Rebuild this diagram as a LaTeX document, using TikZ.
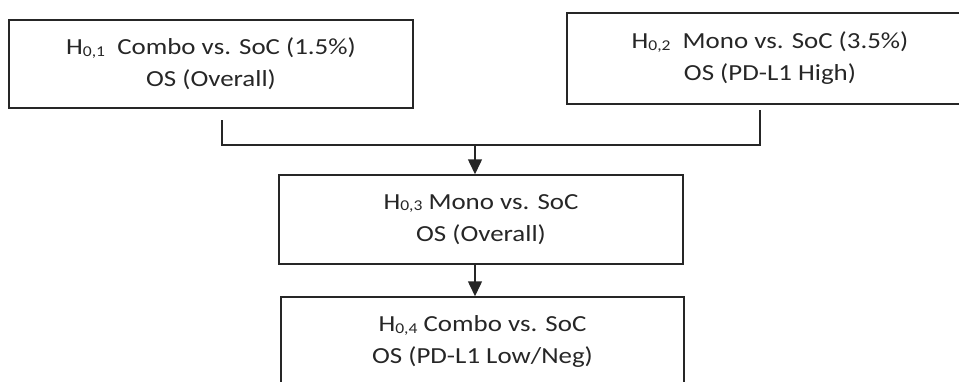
\documentclass[tikz,border=0pt]{standalone}
\usepackage{fontspec}
\setmainfont{Carlito}[FakeStretch=1.17]
\usetikzlibrary{arrows.meta}
\definecolor{ink}{HTML}{262626}
\newcommand\hsub[1]{\raisebox{-1.5pt}{\fontsize{15}{15}\selectfont #1}}
\begin{document}
\begin{tikzpicture}[x=1pt,y=-1pt,
  hbox/.style={draw=ink, line width=1.5pt, rectangle, inner sep=0pt, align=center,
    text=ink, font=\fontsize{23}{32}\selectfont},
  conn/.style={draw=ink, line width=1.5pt},
  arr/.style={conn, -{Triangle[width=14pt,length=15pt]}}]
\useasboundingbox (0,0) rectangle (959,381);
\begin{scope}
\clip (0,0) rectangle (959,381);
\node[hbox, minimum width=404pt, minimum height=88pt] (h1) at (211,64)
  {H\hsub{0,1}\ \ Combo vs. SoC (1.5\%)\\OS (Overall)};
\node[hbox, minimum width=406pt, minimum height=91pt] (h2) at (770,58.5)
  {H\hsub{0,2}\ \ Mono vs. SoC (3.5\%)\\OS (PD-L1 High)};
\node[hbox, minimum width=404pt, minimum height=89pt] (h3) at (481,219.5)
  {H\hsub{0,3} Mono vs. SoC\\OS (Overall)};
\node[hbox, minimum width=403pt, minimum height=89pt] (h4) at (482.5,341.5)
  {H\hsub{0,4} Combo vs. SoC\\OS (PD-L1 Low/Neg)};
\coordinate (s1) at (222,120);
\coordinate (s2) at (760,110);
\coordinate (j1) at (222,145);
\coordinate (j2) at (760,145);
\coordinate (jm) at (475,145);
\draw[conn] (s1) -- (j1) -- (j2) -- (s2);
\draw[arr] (jm) -- (jm |- h3.north);
\draw[arr] (h3.south -| jm) -- (jm |- h4.north);
\end{scope}
\end{tikzpicture}
\end{document}
